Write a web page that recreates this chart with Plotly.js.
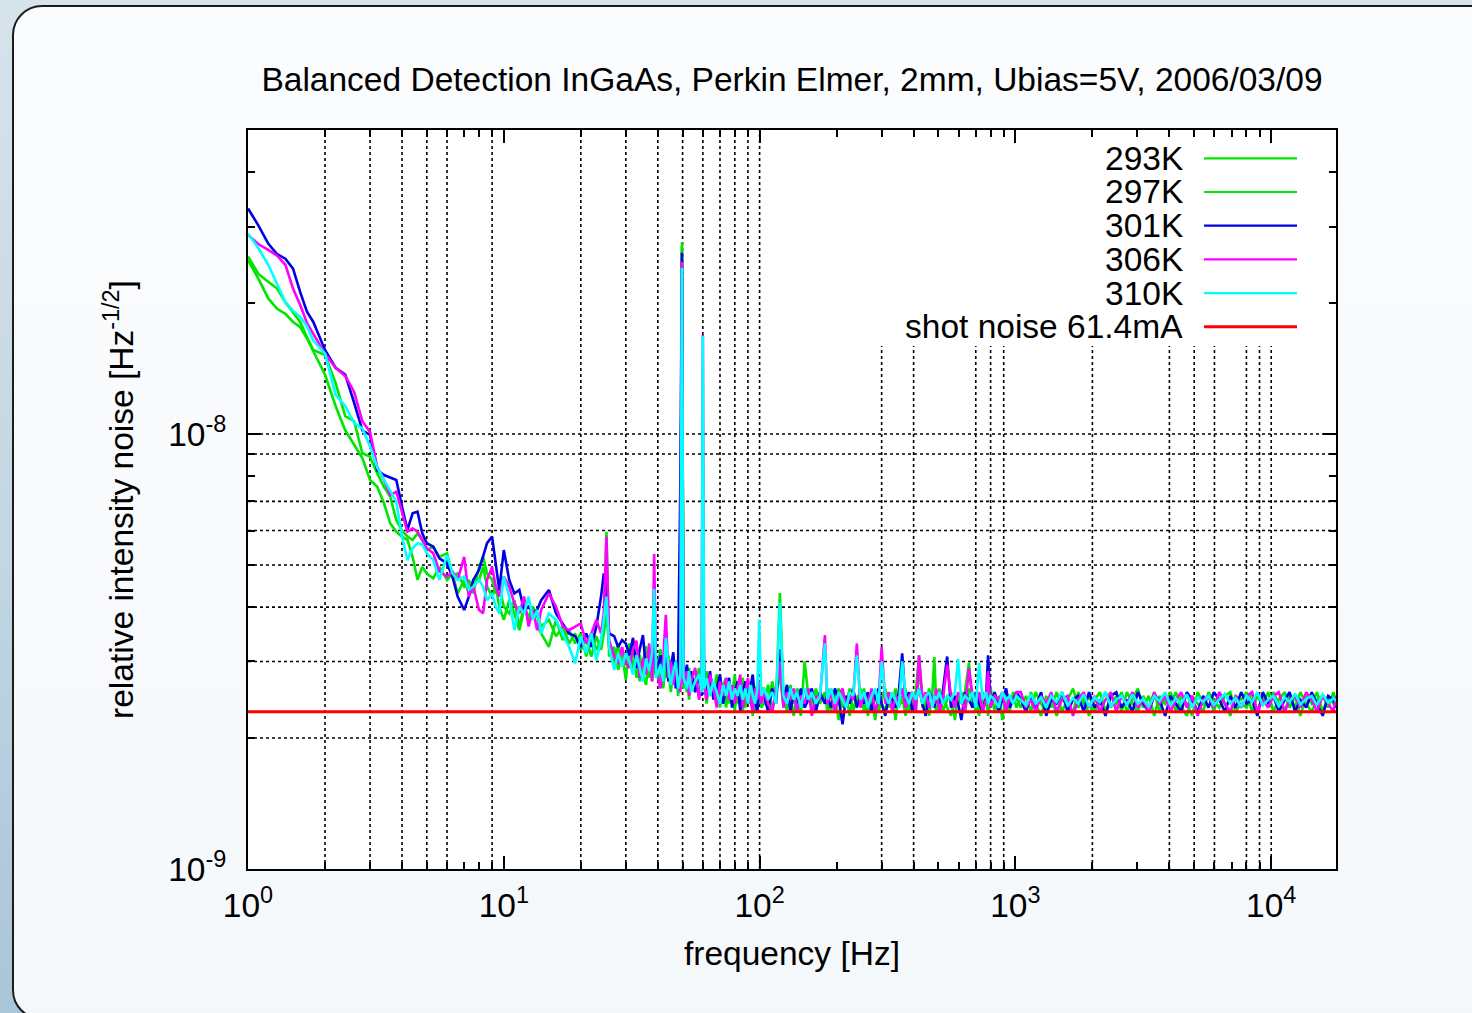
<!DOCTYPE html>
<html>
<head>
<meta charset="utf-8">
<script src="https://cdn.plot.ly/plotly-3.0.1.min.js"></script>
<style>
  html, body { margin:0; padding:0; width:1472px; height:1013px; overflow:hidden;
    background: linear-gradient(to bottom, #d6e3eb 0%, #c2d6e3 55%, #a9c5d7 100%); }
  #panel { position:absolute; left:12px; top:5px; width:1500px; height:1015px;
    border:2px solid #1c1c1c; border-radius:30px; box-sizing:border-box;
    background: linear-gradient(to bottom, #fbfcfe 0%, #f5f8fb 100%); }
  #chart { position:absolute; left:0; top:0; width:1472px; height:1013px; }
</style>
</head>
<body>
<div id="panel"></div>
<div id="chart"></div>
<script>
// ---------------- data (values in units of 1e-9 Hz^-1/2) ----------------
const freq = [
  1, 1.1, 1.2, 1.3, 1.4, 1.5, 1.6, 1.7, 1.8, 2.0, 2.2, 2.4, 2.6, 2.8, 3.0, 3.2, 3.4, 3.6, 3.8, 4.0, 4.2, 4.4, 4.6, 4.8, 5.0,
  5.3, 5.6, 6.0, 6.3, 6.6, 7.0, 7.3, 7.6, 8.0, 8.3, 8.6, 9.0, 9.3, 9.6, 10, 10.5, 11, 11.5, 12, 12.5, 13, 13.5, 14, 15, 16, 17, 18, 19, 20,
  21, 22, 23, 24, 24.6, 25.2, 25.8, 27, 28, 29, 30,
  31, 32, 33, 34, 35, 36, 37, 38, 38.7, 39.4, 41, 42, 43, 44, 45, 46, 47, 48, 49, 49.7, 50.4, 52, 53, 54, 56, 58, 59.3, 60, 60.7,
  62, 64, 66, 68, 70, 72, 74, 76, 78, 80, 82, 84, 86, 88, 90, 92, 94, 96, 98, 99.6, 101.5,
  104, 108, 112, 116, 120, 124, 128, 132, 136, 140, 145, 150, 155, 160, 166, 172, 180, 184, 190, 197,
  204, 211, 218, 225, 232, 240, 248, 256, 265, 274, 283, 292, 300, 310, 320, 330, 340, 350, 361, 372,
  384, 396, 408, 420, 433, 446, 460, 474, 482, 490, 505, 520, 541, 560, 580, 597, 615, 635, 658, 680,
  700, 721, 745, 768, 782, 800, 830, 860, 890, 920, 950, 980, 1010,
  1050, 1100, 1150, 1200, 1260, 1320, 1380, 1450, 1520, 1600, 1680, 1760, 1850, 1940, 2040, 2140, 2250, 2360, 2480, 2600,
  2730, 2870, 3010, 3160, 3320, 3490, 3660, 3850, 4040, 4240, 4450, 4680, 4910, 5160, 5420, 5690, 5970, 6270, 6590, 6920,
  7260, 7630, 8010, 8410, 8830, 9270, 9740, 10200, 10700, 11300, 11800, 12400, 13000, 13700, 14400, 15100, 15900, 16700, 17500, 18000
];

const v293 = [
  25.6, 23.3, 22.4, 21.6, 20.1, 19.1, 18.1, 16.7, 15.6, 15.2, 13.1, 11.0, 10.7, 9.03, 8.87, 8.12, 7.56, 7.17, 6.34, 6.0, 5.81, 5.71, 5.91, 5.71, 5.41,
  5.51, 5.22, 5.32, 4.70, 4.78, 4.46, 4.62, 4.30, 4.95, 5.22, 4.78, 4.62, 4.30, 4.46, 4.01, 3.87, 4.15, 3.61, 4.01, 3.74, 3.87, 3.61, 3.48, 3.24, 3.74, 3.36, 3.54, 3.30, 3.48,
  3.08, 3.43, 3.19, 3.36, 3.61, 5.96, 3.08, 3.24, 2.87, 3.13, 2.72,
  3.3, 2.85, 3.15, 2.7, 3.0, 3.25, 2.75, 3.05, 2.95, 2.8, 3.2, 2.6, 3.0, 2.85, 2.55, 3.05, 2.7, 2.9, 2.6, 27.6, 2.85, 2.55, 2.9, 2.6, 2.75, 2.5, 2.8, 6.3, 2.6,
  2.85, 2.5, 2.7, 2.45, 2.75, 2.55, 2.35, 2.7, 2.5, 2.8, 2.4, 2.6, 2.3, 2.65, 2.45, 2.7, 2.25, 2.55, 2.65, 2.4, 2.6,
  2.6, 2.35, 2.7, 2.45, 4.31, 2.5, 2.3, 2.65, 2.4, 2.55, 2.25, 3.0, 2.5, 2.35, 2.6, 2.4, 2.55, 2.3, 2.6, 2.45,
  2.2, 2.55, 2.4, 2.6, 2.3, 2.5, 2.4, 2.6, 2.25, 2.5, 2.55, 2.3, 2.45, 2.6, 2.35, 2.5, 2.2, 2.55, 2.4, 2.6,
  2.3, 2.45, 2.55, 3.1, 2.35, 2.5, 2.25, 2.55, 3.07, 2.4, 2.6, 2.3, 2.45, 2.55, 2.2, 2.5, 2.4, 2.55, 2.98, 2.35,
  2.5, 2.25, 2.55, 2.4, 2.45, 2.6, 2.3, 2.5, 2.2, 2.55, 2.4, 2.5, 2.35,
  2.5, 2.3, 2.55, 2.4, 2.25, 2.5, 2.35, 2.55, 2.3, 2.45, 2.6, 2.35, 2.5, 2.25, 2.45, 2.55, 2.3, 2.5, 2.4, 2.55,
  2.3, 2.45, 2.6, 2.35, 2.5, 2.25, 2.5, 2.4, 2.55, 2.3, 2.5, 2.4, 2.25, 2.55, 2.4, 2.5, 2.3, 2.55, 2.4, 2.25,
  2.5, 2.45, 2.55, 2.3, 2.5, 2.4, 2.55, 2.3, 2.45, 2.55, 2.35, 2.5, 2.25, 2.5, 2.4, 2.55, 2.3, 2.5, 2.4, 2.45
];

const v297 = [
  25.1, 22.7, 20.5, 19.4, 18.9, 18.1, 17.6, 16.6, 15.5, 13.7, 11.6, 10.2, 9.45, 8.81, 7.84, 7.56, 6.93, 6.23, 5.96, 5.81, 5.71, 5.22, 4.62, 4.95, 4.78,
  4.66, 4.95, 4.62, 4.78, 4.30, 4.62, 4.30, 4.62, 4.62, 4.95, 4.46, 4.23, 4.46, 4.01, 3.74, 4.15, 3.87, 3.54, 3.94, 3.81, 4.01, 3.81, 3.61, 3.74, 3.43, 3.61, 3.30, 3.48, 3.19,
  3.36, 3.08, 3.43, 3.19, 3.48, 3.87, 3.24, 2.97, 3.30, 2.92, 3.13,
  2.95, 3.35, 2.75, 3.1, 2.8, 2.65, 3.15, 2.7, 2.9, 3.05, 2.65, 2.95, 2.75, 3.1, 2.6, 2.8, 3.0, 2.5, 2.85, 27.0, 2.6, 2.9, 2.45, 2.75, 2.6, 2.9, 2.55, 4.2, 2.7,
  2.4, 2.75, 2.55, 2.8, 2.35, 2.65, 2.75, 2.4, 2.6, 2.3, 2.7, 2.5, 2.75, 2.35, 2.6, 2.4, 2.65, 2.3, 2.5, 2.7, 2.35,
  2.4, 2.65, 2.3, 2.55, 2.8, 2.35, 2.6, 2.45, 2.25, 2.6, 2.5, 2.35, 2.6, 2.4, 2.3, 2.55, 2.45, 2.6, 2.3, 2.5,
  2.6, 2.35, 2.5, 2.25, 2.55, 2.4, 2.6, 2.3, 2.5, 2.45, 2.2, 2.55, 2.4, 2.3, 2.55, 2.4, 2.6, 2.35, 2.5, 2.25,
  2.55, 2.45, 2.3, 2.9, 2.5, 2.35, 2.6, 2.4, 2.5, 2.3, 2.45, 2.55, 2.35, 2.25, 2.5, 2.4, 2.55, 2.3, 2.6, 2.45,
  2.3, 2.55, 2.4, 2.5, 2.25, 2.45, 2.55, 2.35, 2.5, 2.4, 2.3, 2.55, 2.45,
  2.35, 2.5, 2.3, 2.55, 2.4, 2.3, 2.5, 2.25, 2.5, 2.35, 2.3, 2.55, 2.4, 2.5, 2.3, 2.4, 2.55, 2.35, 2.5, 2.3,
  2.55, 2.4, 2.3, 2.5, 2.35, 2.55, 2.3, 2.5, 2.4, 2.55, 2.35, 2.25, 2.5, 2.4, 2.3, 2.55, 2.45, 2.35, 2.5, 2.55,
  2.3, 2.4, 2.35, 2.55, 2.3, 2.5, 2.35, 2.55, 2.4, 2.3, 2.5, 2.35, 2.55, 2.4, 2.3, 2.45, 2.5, 2.35, 2.55, 2.4
];

const v301 = [
  33.0, 30.1, 27.4, 25.9, 25.3, 24.0, 21.2, 19.1, 18.1, 15.6, 14.2, 13.7, 11.8, 10.2, 9.95, 8.26, 8.05, 7.95, 7.84, 6.81, 6.02, 6.57, 6.63, 5.91, 5.61,
  5.51, 5.18, 5.04, 4.70, 4.23, 3.94, 4.23, 4.62, 4.87, 5.22, 5.61, 5.81, 4.95, 4.38, 5.41, 4.62, 4.30, 4.38, 3.94, 4.01, 3.87, 3.94, 4.15, 4.38, 3.87, 3.67, 3.48, 3.43, 3.24,
  3.48, 3.24, 3.61, 4.23, 4.78, 4.30, 3.48, 3.43, 3.24, 3.36, 3.30,
  3.1, 3.4, 2.9, 3.2, 3.45, 2.85, 3.1, 2.95, 3.3, 2.8, 3.1, 2.85, 3.15, 2.7, 2.95, 3.15, 2.6, 2.85, 7.7, 26.1, 2.7, 2.95, 2.6, 2.85, 2.55, 2.8, 2.5, 4.0, 2.75,
  2.55, 2.85, 2.45, 2.6, 2.8, 2.4, 2.6, 2.75, 2.35, 2.55, 2.7, 2.3, 2.55, 2.7, 2.4, 2.6, 2.8, 2.45, 2.3, 2.6, 2.45,
  2.5, 2.3, 2.6, 2.4, 3.2, 2.45, 2.65, 2.3, 2.55, 2.4, 2.6, 2.35, 2.45, 2.6, 2.3, 2.55, 2.4, 2.5, 2.35, 2.6,
  2.45, 2.15, 2.5, 2.4, 2.6, 2.35, 2.5, 2.4, 2.55, 2.3, 2.5, 2.6, 2.4, 2.25, 2.5, 2.45, 2.35, 2.55, 3.13, 2.4,
  2.55, 2.3, 2.45, 2.6, 2.4, 2.25, 2.55, 2.45, 2.35, 2.5, 2.4, 2.55, 3.08, 2.35, 2.5, 2.4, 2.2, 2.55, 2.45, 2.35,
  2.55, 2.4, 2.3, 2.5, 3.1, 2.4, 2.55, 2.3, 2.45, 2.6, 2.35, 2.45, 2.55,
  2.45, 2.3, 2.5, 2.35, 2.55, 2.25, 2.45, 2.4, 2.55, 2.3, 2.45, 2.5, 2.3, 2.55, 2.35, 2.45, 2.25, 2.5, 2.55, 2.35,
  2.45, 2.3, 2.55, 2.4, 2.3, 2.5, 2.45, 2.25, 2.5, 2.4, 2.3, 2.55, 2.45, 2.3, 2.5, 2.35, 2.55, 2.45, 2.3, 2.5,
  2.35, 2.55, 2.4, 2.45, 2.25, 2.55, 2.4, 2.5, 2.3, 2.45, 2.55, 2.3, 2.45, 2.35, 2.55, 2.4, 2.25, 2.5, 2.45, 2.35
];

const v306 = [
  28.7, 27.3, 26.5, 25.7, 24.5, 21.6, 19.8, 18.0, 17.0, 15.3, 14.2, 13.6, 12.5, 10.7, 10.1, 8.4, 7.84, 7.24, 7.37, 6.57, 5.96, 6.07, 5.96, 5.71, 5.46,
  5.32, 4.83, 4.70, 4.83, 4.62, 5.22, 4.23, 4.46, 3.94, 3.87, 4.62, 4.95, 4.46, 4.23, 4.70, 4.46, 4.08, 3.87, 4.23, 3.61, 3.94, 3.54, 3.94, 4.30, 4.01, 3.61, 3.54, 3.61, 3.67,
  3.30, 3.48, 3.74, 3.48, 3.87, 5.81, 3.36, 3.08, 2.97, 3.24, 2.97,
  2.9, 3.2, 3.35, 2.75, 3.05, 2.8, 3.3, 2.7, 5.3, 2.85, 2.6, 3.05, 3.84, 2.75, 3.0, 2.65, 2.95, 2.7, 2.55, 24.9, 2.65, 2.85, 2.5, 2.7, 2.9, 2.45, 2.7, 16.9, 2.65,
  2.45, 2.8, 2.6, 2.35, 2.7, 2.5, 2.75, 2.45, 2.65, 2.4, 2.6, 2.8, 2.35, 2.55, 2.75, 2.45, 2.3, 2.6, 2.45, 2.7, 2.4,
  2.55, 2.4, 2.3, 2.6, 3.0, 2.35, 2.55, 2.45, 2.6, 2.3, 2.5, 2.4, 2.6, 2.25, 2.5, 2.45, 3.45, 2.4, 2.55, 2.3,
  2.5, 2.6, 2.35, 2.5, 2.45, 3.3, 2.35, 2.55, 2.4, 2.6, 2.3, 2.45, 3.24, 2.4, 2.55, 2.3, 2.5, 2.45, 2.6, 2.35,
  2.5, 2.55, 2.3, 3.1, 2.45, 2.55, 2.35, 2.5, 2.4, 2.6, 2.3, 2.45, 2.95, 2.5, 2.35, 2.55, 2.45, 2.3, 2.9, 2.5,
  2.4, 2.55, 2.3, 2.45, 2.85, 2.35, 2.5, 2.45, 2.55, 2.3, 2.5, 2.4, 2.55,
  2.55, 2.35, 2.45, 2.3, 2.5, 2.4, 2.55, 2.3, 2.45, 2.5, 2.25, 2.45, 2.55, 2.35, 2.5, 2.3, 2.45, 2.55, 2.3, 2.5,
  2.4, 2.55, 2.35, 2.45, 2.3, 2.55, 2.4, 2.5, 2.3, 2.45, 2.55, 2.35, 2.5, 2.25, 2.45, 2.5, 2.35, 2.55, 2.4, 2.3,
  2.5, 2.35, 2.5, 2.55, 2.3, 2.45, 2.35, 2.5, 2.55, 2.3, 2.45, 2.5, 2.35, 2.55, 2.45, 2.3, 2.5, 2.4, 2.3, 2.5
];

const v310 = [
  28.9, 26.7, 24.5, 22.1, 20.1, 19.2, 18.6, 17.7, 16.4, 15.3, 12.3, 11.6, 10.6, 10.3, 9.36, 8.38, 7.84, 7.37, 6.99, 5.81, 5.13, 5.46, 5.61, 5.57, 5.32,
  5.13, 4.62, 5.27, 4.78, 4.62, 4.70, 4.38, 4.46, 4.62, 4.46, 4.15, 4.30, 4.01, 3.87, 4.70, 4.23, 3.54, 4.01, 3.87, 4.23, 3.74, 3.94, 3.48, 3.87, 3.74, 3.48, 3.24, 2.97, 3.43,
  3.13, 3.48, 3.02, 3.36, 3.74, 4.23, 3.24, 2.87, 3.13, 2.92, 3.13,
  3.0, 2.8, 3.1, 2.9, 2.7, 3.05, 2.85, 3.15, 4.4, 2.75, 2.95, 2.7, 3.4, 2.9, 2.65, 2.85, 3.0, 2.6, 2.8, 24.1, 2.75, 2.6, 2.85, 2.55, 2.7, 2.8, 2.55, 16.8, 2.6,
  2.75, 2.5, 2.7, 2.55, 2.4, 2.65, 2.5, 2.7, 2.45, 2.6, 2.5, 2.65, 2.45, 2.6, 2.4, 2.65, 2.5, 2.4, 2.6, 3.74, 2.5,
  2.6, 2.45, 2.55, 2.4, 4.1, 2.5, 2.4, 2.6, 2.45, 2.55, 2.35, 2.6, 2.45, 2.55, 2.4, 2.5, 3.3, 2.45, 2.6, 2.4,
  2.55, 2.45, 2.35, 2.55, 2.5, 3.1, 2.45, 2.55, 2.35, 2.5, 2.6, 2.4, 3.0, 2.5, 2.4, 2.55, 2.45, 2.35, 3.0, 2.5,
  2.4, 2.55, 2.45, 2.6, 2.4, 2.5, 2.55, 2.35, 2.5, 2.45, 2.55, 2.4, 2.5, 2.45, 2.55, 3.04, 2.4, 2.5, 2.45, 2.55,
  2.35, 2.98, 2.45, 2.55, 2.4, 2.5, 2.45, 2.35, 2.55, 2.45, 2.5, 2.4, 2.5,
  2.45, 2.38, 2.52, 2.4, 2.48, 2.35, 2.5, 2.42, 2.55, 2.38, 2.47, 2.4, 2.52, 2.36, 2.48, 2.42, 2.55, 2.37, 2.45, 2.5,
  2.38, 2.52, 2.4, 2.46, 2.36, 2.5, 2.43, 2.55, 2.38, 2.47, 2.4, 2.52, 2.35, 2.48, 2.42, 2.5, 2.38, 2.46, 2.53, 2.4,
  2.47, 2.36, 2.5, 2.42, 2.55, 2.38, 2.45, 2.5, 2.37, 2.48, 2.42, 2.53, 2.39, 2.46, 2.5, 2.38, 2.52, 2.41, 2.47, 2.43
];

const shotFreq = [1, 18000];
const shotVal = [2.3, 2.3];
const valueUnit = 1e-9;

const seriesNames = ['293K', '297K', '301K', '306K', '310K'];
const seriesVals = [v293, v297, v301, v306, v310];
const seriesColors = ['#00e600', '#00e600', '#0000e6', '#ff00ff', '#00ffff'];
const shotName = 'shot noise 61.4mA';
const shotColor = '#ff0000';

const xTickVals = [1, 10, 100, 1000, 10000];
const xTickText = ['10<sup>0</sup>', '10<sup>1</sup>', '10<sup>2</sup>', '10<sup>3</sup>', '10<sup>4</sup>'];
const yTickVals = [1e-9, 1e-8];
const yTickText = ['10<sup>-9</sup>', '10<sup>-8</sup>'];
// grid lines that are visible in the reference
const xGridVals = [2, 3, 4, 5, 6, 9, 20, 30, 40, 50, 60, 70, 80, 90, 100, 300, 400, 700, 800, 900,
                   2000, 4000, 5000, 6000, 8000, 9000, 10000];
const yGridVals = [1e-8, 9e-9, 7e-9, 6e-9, 5e-9, 4e-9, 3e-9, 2e-9];

// ---------------- build ----------------
const FONT = 'Liberation Sans, Arial, Helvetica, sans-serif';
const FS = 33.5;
const xRange = [0, 4.2533];
const yRange = [-9, Math.log10(5e-8)];

const xMinor = [], yMinor = [];
[1, 10, 100, 1000, 10000].forEach(d => { for (let k = 2; k <= 9; k++) { if (d * k < 17900) xMinor.push(d * k); } });
[1e-9, 1e-8].forEach(d => { for (let k = 2; k <= 9; k++) { if (d * k < 4.99e-8) yMinor.push(d * k); } });

const traces = seriesVals.map((vals, i) => ({
  x: freq, y: vals.map(v => v * valueUnit), type: 'scatter', mode: 'lines',
  name: seriesNames[i], line: { color: seriesColors[i], width: 2.6 }, showlegend: false, hoverinfo: 'skip'
}));
traces.push({
  x: shotFreq, y: shotVal.map(v => v * valueUnit), type: 'scatter', mode: 'lines',
  name: shotName, line: { color: shotColor, width: 3 }, showlegend: false, hoverinfo: 'skip'
});

// plot geometry in pixels (for the hand-made gnuplot-style key)
const plotL = 248, plotR = 1336, plotT = 130, plotB = 869;
const px2paperX = p => (p - plotL) / (plotR - plotL);
const px2paperY = p => (plotB - p) / (plotB - plotT);

const grid = { color: '#000', width: 1.6, dash: '3px,3px' };
const shapes = [];
xGridVals.forEach(f => shapes.push({ type: 'line', layer: 'below', xref: 'x', yref: 'paper',
  x0: f, x1: f, y0: 0, y1: 1, line: grid }));
yGridVals.forEach(v => shapes.push({ type: 'line', layer: 'below', xref: 'paper', yref: 'y',
  x0: 0, x1: 1, y0: v, y1: v, line: grid }));
// white key box hiding the grid behind the key
shapes.push({ type: 'rect', layer: 'below', xref: 'paper', yref: 'paper',
  x0: px2paperX(870), x1: 1, y0: px2paperY(346), y1: 1, fillcolor: '#ffffff', line: { width: 0 } });

const keyNames = seriesNames.concat([shotName]);
const keyColors = seriesColors.concat([shotColor]);
const annotations = [];
keyNames.forEach((n, i) => {
  const yy = px2paperY(158.3 + i * 33.7);
  annotations.push({ xref: 'paper', yref: 'paper', x: px2paperX(1185), y: yy, xanchor: 'right', yanchor: 'middle',
    text: n, showarrow: false, font: { family: FONT, size: FS, color: '#000' } });
  shapes.push({ type: 'line', layer: 'above', xref: 'paper', yref: 'paper',
    x0: px2paperX(1204), x1: px2paperX(1297), y0: yy, y1: yy,
    line: { color: keyColors[i], width: i === 5 ? 3 : 2.2 } });
});

const axisCommon = {
  ticks: 'inside', ticklen: 13, tickwidth: 2, tickcolor: '#000',
  showline: true, linewidth: 2, linecolor: '#000', mirror: 'ticks',
  showgrid: false, zeroline: false, automargin: false,
  tickfont: { family: FONT, size: FS, color: '#000' }
};

const layout = {
  width: 1472, height: 1013,
  margin: { l: plotL, r: 1472 - plotR, t: plotT, b: 1013 - plotB, pad: 0 },
  paper_bgcolor: 'rgba(0,0,0,0)', plot_bgcolor: '#ffffff',
  font: { family: FONT, size: FS, color: '#000' },
  title: { text: 'Balanced Detection InGaAs, Perkin Elmer, 2mm, Ubias=5V, 2006/03/09',
    font: { family: FONT, size: FS, color: '#000' },
    x: 792 / 1472, xanchor: 'center', y: 1 - 79 / 1013, yanchor: 'middle' },
  xaxis: Object.assign({}, axisCommon, {
    type: 'log', range: xRange, tickmode: 'array', tickvals: xTickVals, ticktext: xTickText,
    ticklabelstandoff: 6,
    minor: { tickmode: 'array', tickvals: xMinor, ticks: 'inside', ticklen: 7, tickwidth: 2, tickcolor: '#000', showgrid: false },
    title: { text: 'frequency [Hz]', font: { family: FONT, size: FS, color: '#000' }, standoff: 18 }
  }),
  yaxis: Object.assign({}, axisCommon, {
    type: 'log', range: yRange, tickmode: 'array', tickvals: yTickVals, ticktext: yTickText,
    ticklabelstandoff: 13,
    minor: { tickmode: 'array', tickvals: yMinor, ticks: 'inside', ticklen: 7, tickwidth: 2, tickcolor: '#000', showgrid: false },
    title: { text: 'relative intensity noise [Hz<sup>-1/2</sup>]', font: { family: FONT, size: FS, color: '#000' }, standoff: 24 }
  }),
  shapes: shapes,
  annotations: annotations,
  showlegend: false
};

Plotly.newPlot('chart', traces, layout, { displayModeBar: false, staticPlot: true });
</script>
</body>
</html>
